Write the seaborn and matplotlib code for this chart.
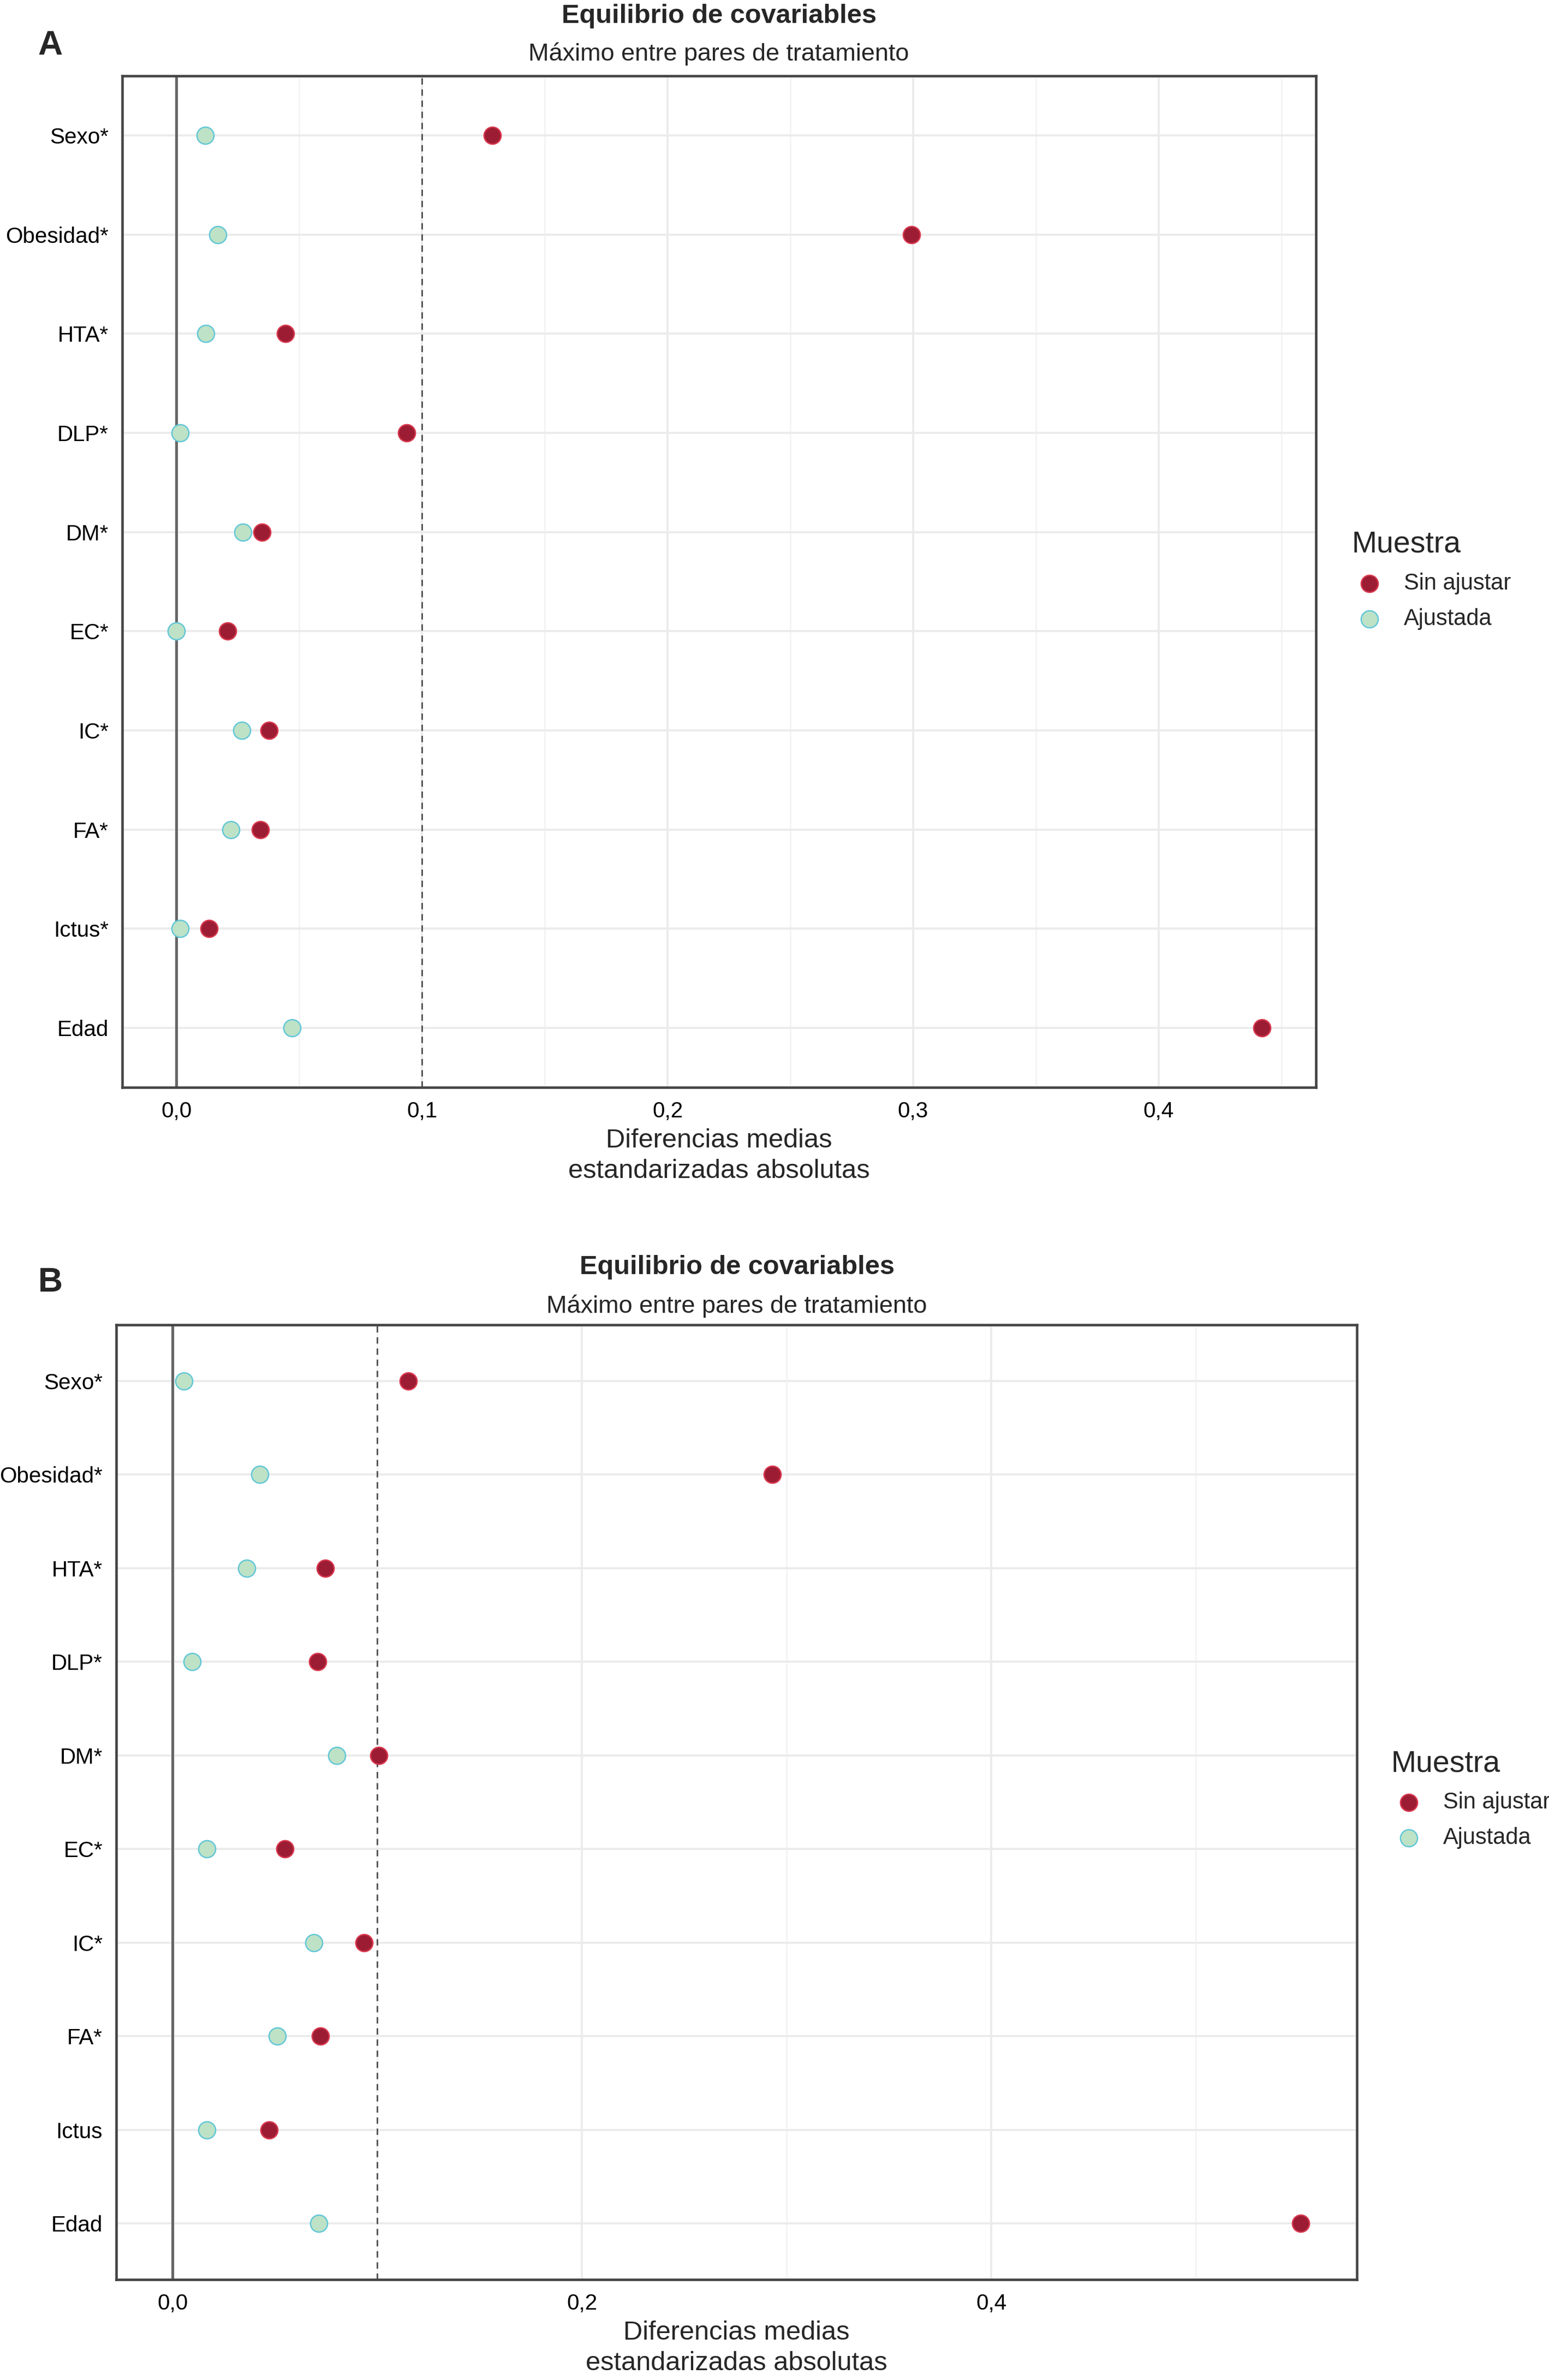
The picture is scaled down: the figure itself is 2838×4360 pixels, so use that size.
import numpy as np
import pandas as pd
import seaborn as sns
import matplotlib.pyplot as plt
from matplotlib.ticker import MultipleLocator, FuncFormatter

sns.set_style('white')
plt.rcParams['font.family'] = ['Liberation Sans', 'DejaVu Sans']

# covariates, top to bottom
vars_a = ['Sexo*', 'Obesidad*', 'HTA*', 'DLP*', 'DM*', 'EC*', 'IC*', 'FA*', 'Ictus*', 'Edad']
vars_b = ['Sexo*', 'Obesidad*', 'HTA*', 'DLP*', 'DM*', 'EC*', 'IC*', 'FA*', 'Ictus', 'Edad']

# absolute standardized mean differences (max over treatment pairs)
raw_a = [0.1286, 0.2994, 0.0444, 0.0938, 0.0348, 0.0208, 0.0376, 0.0341, 0.0133, 0.442]
adj_a = [0.0118, 0.0168, 0.0120, 0.0014, 0.0271, 0.0000, 0.0265, 0.0221, 0.0014, 0.047]
raw_b = [0.1150, 0.2930, 0.0747, 0.0708, 0.1006, 0.0549, 0.0935, 0.0723, 0.0472, 0.551]
adj_b = [0.0056, 0.0425, 0.0361, 0.0095, 0.0801, 0.0166, 0.0691, 0.0510, 0.0166, 0.0715]

samples = ['Sin ajustar', 'Ajustada']
threshold = 0.1

fill = {'Sin ajustar': '#9C1D33', 'Ajustada': '#BEE2C6'}
edge = {'Sin ajustar': '#D9384E', 'Ajustada': '#63C7D8'}

W, H, DPI = 2838, 4360, 300
fig = plt.figure(figsize=(W / DPI, H / DPI), dpi=DPI)


def px(l, t, r, b):
    return [l / W, 1 - b / H, (r - l) / W, (b - t) / H]


def love_plot(ax, names, raw, adj, major):
    df = pd.DataFrame({
        'var': names * 2,
        'diff': raw + adj,
        'Muestra': ['Sin ajustar'] * len(names) + ['Ajustada'] * len(names),
    })
    ymap = {v: i for i, v in enumerate(names)}
    df['y'] = df['var'].map(ymap)

    xmax = max(raw + adj)
    pad = 0.05 * xmax
    ax.set_xlim(-pad, xmax + pad)
    ax.set_ylim(len(names) - 1 + 0.6, -0.6)

    ax.xaxis.set_major_locator(MultipleLocator(major))
    ax.xaxis.set_minor_locator(MultipleLocator(major / 2))
    ax.xaxis.set_major_formatter(FuncFormatter(lambda v, p: f'{v:.1f}'.replace('.', ',')))
    ax.set_yticks(range(len(names)))
    ax.set_yticklabels(names)

    ax.grid(True, which='major', color='#EBEBEB', lw=0.9, zorder=0)
    ax.grid(True, which='minor', axis='x', color='#F2F2F2', lw=0.6, zorder=0)
    ax.set_axisbelow(True)

    ax.axvline(0, color='#666666', lw=1.2, zorder=1)
    ax.axvline(threshold, color='#555555', lw=0.7, ls=(0, (4, 3)), zorder=1)

    for s in samples:
        sub = df[df['Muestra'] == s]
        sns.scatterplot(data=sub, x='diff', y='y', ax=ax, s=56, color=fill[s],
                        edgecolor=edge[s], linewidth=0.6, label=s, zorder=3)

    for sp in ax.spines.values():
        sp.set_color('#444444')
        sp.set_linewidth(1.1)
    ax.tick_params(axis='both', which='major', direction='out', length=3.5, width=0.8,
                   color='#444444', labelsize=9.7, labelcolor='black', pad=2.5)
    ax.tick_params(axis='x', which='minor', length=0)
    ax.set_ylabel('')
    ax.set_xlabel('Diferencias medias\nestandarizadas absolutas', fontsize=11.7, labelpad=3,
                  linespacing=1.3)


ax_a = fig.add_axes(px(224, 139, 2411, 1992))
love_plot(ax_a, vars_a, raw_a, adj_a, 0.1)
ax_b = fig.add_axes(px(213, 2427, 2486, 4176))
love_plot(ax_b, vars_b, raw_b, adj_b, 0.2)

for ax, (lx, ly) in [(ax_a, (2476, 972)), (ax_b, (2548, 3205))]:
    sns.move_legend(ax, 'upper left', bbox_to_anchor=(lx / W, 1 - ly / H),
                    bbox_transform=fig.transFigure, frameon=False, title='Muestra',
                    title_fontsize=13.3, fontsize=10, borderaxespad=0, borderpad=0,
                    handlelength=1.6, handletextpad=0.7, labelspacing=0.6,
                    alignment='left', markerscale=1.0)

# titles
fig.text(1317 / W, 1 - 30 / H, 'Equilibrio de covariables', ha='center', va='center',
         fontsize=11.7, fontweight='bold')
fig.text(1317 / W, 1 - 99 / H, 'Máximo entre pares de tratamiento', ha='center', va='center',
         fontsize=10.8)
fig.text(1350 / W, 1 - 2321 / H, 'Equilibrio de covariables', ha='center', va='center',
         fontsize=11.7, fontweight='bold')
fig.text(1350 / W, 1 - 2393 / H, 'Máximo entre pares de tratamiento', ha='center', va='center',
         fontsize=10.8)
fig.text(92 / W, 1 - 84 / H, 'A', ha='center', va='center', fontsize=15, fontweight='bold')
fig.text(92 / W, 1 - 2350 / H, 'B', ha='center', va='center', fontsize=15, fontweight='bold')

fig.savefig('out.png', dpi=DPI)
